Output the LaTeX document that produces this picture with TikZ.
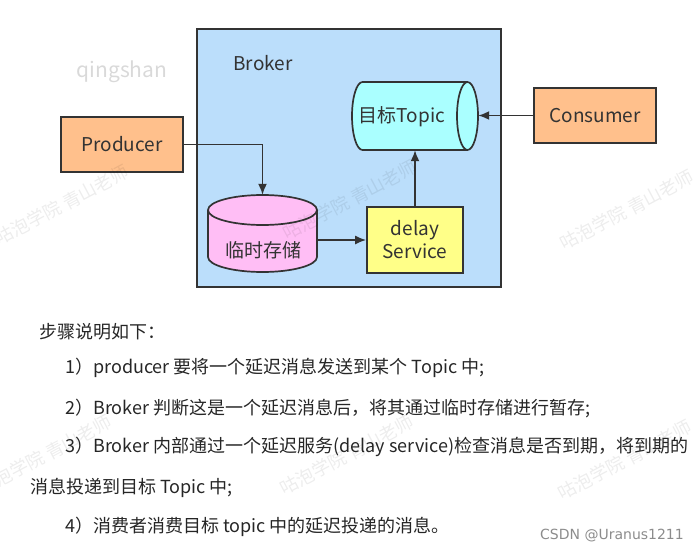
\documentclass[tikz,border=0pt]{standalone}
\usepackage{fontspec}
\setmainfont{Noto Sans CJK SC}
\newfontfamily\csdnfont{DejaVu Sans}
\usetikzlibrary{arrows.meta}
\definecolor{brokerblue}{RGB}{187,222,251}
\definecolor{topiccyan}{RGB}{170,255,255}
\definecolor{storepink}{RGB}{255,190,245}
\definecolor{delayyellow}{RGB}{255,255,136}
\definecolor{roleorange}{RGB}{255,192,140}
\definecolor{edgegray}{RGB}{51,51,51}
\tikzset{
	box/.style={draw=edgegray,line width=1.7pt,minimum width=122pt,minimum height=55pt,font=\fontsize{19}{23}\selectfont,text=edgegray},
	link/.style={draw=edgegray,line width=1.7pt,-{Latex[length=11pt,width=9pt]}},
	steptext/.style={anchor=west,inner sep=0pt,font=\fontsize{18}{20}\selectfont,text=black!85},
	wmtext/.style={rotate=28,text=black,opacity=.07,font=\fontsize{18}{20}\selectfont}
}
\begin{document}
\begin{tikzpicture}[x=1pt,y=1pt]
	\useasboundingbox (0,0) rectangle (699,-552);
	\node[text=black!15,font=\fontsize{21}{23}\selectfont] (qingshan) at (122,-72) {qingshan};
	
	\node[draw=edgegray,line width=1.7pt,fill=brokerblue,minimum width=304pt,minimum height=258pt] (broker) at (349,-158) {};
	\node[text=edgegray,font=\fontsize{19}{22}\selectfont] (brokername) at (263,-63) {Broker};
	
	% target topic, lying cylinder
	\node[minimum width=126pt,minimum height=68pt,inner sep=0pt] (topic) at (415,-116) {};
	\draw[draw=edgegray,line width=1.7pt,fill=topiccyan] (362.5,-82) -- (467.5,-82) arc[start angle=90,end angle=-90,x radius=10.5,y radius=34] -- (362.5,-150) arc[start angle=270,end angle=90,x radius=10.5,y radius=34] -- cycle;
	\draw[draw=edgegray,line width=1.7pt] (467.5,-82) arc[start angle=90,end angle=270,x radius=10.5,y radius=34];
	\node[text=edgegray,font=\fontsize{19}{22}\selectfont] (topictext) at (402,-117) {目标Topic};
	
	% temporary storage, standing cylinder
	\node[minimum width=109pt,minimum height=77pt,inner sep=0pt] (store) at (262.5,-233.5) {};
	\draw[draw=edgegray,line width=1.7pt,fill=storepink] (208,-210) -- (208,-257) arc[start angle=180,end angle=360,x radius=54.5,y radius=15] -- (317,-210) arc[start angle=0,end angle=180,x radius=54.5,y radius=15] -- cycle;
	\draw[draw=edgegray,line width=1.7pt] (208,-210) arc[start angle=180,end angle=360,x radius=54.5,y radius=15];
	\node[text=edgegray,font=\fontsize{19}{22}\selectfont] (storetext) at (263,-250) {临时存储};
	
	\node[box,fill=delayyellow,minimum width=96pt,minimum height=66pt,align=center] (delay) at (415,-240) {delay\\Service};
	\node[box,fill=roleorange] (producer) at (122,-144.5) {Producer};
	\node[box,fill=roleorange] (consumer) at (595,-115.5) {Consumer};
	
	\draw[link] (producer.east) -| (store.north);
	\draw[link] (store.east |- delay.west) -- (delay.west);
	\draw[link] (delay.north) -- (topic.south);
	\draw[link] (consumer.west) -- (consumer.west -| topic.east);
	
	\node[steptext] (steps) at (39,-332) {步骤说明如下：};
	\node[steptext] (stepa) at (65,-368) {1）producer 要将一个延迟消息发送到某个 Topic 中;};
	\node[steptext] (stepb) at (65,-408) {2）Broker 判断这是一个延迟消息后，将其通过临时存储进行暂存;};
	\node[steptext] (stepc) at (65,-447) {3）Broker 内部通过一个延迟服务(delay service)检查消息是否到期，将到期的};
	\node[steptext] (stepcc) at (30,-488) {消息投递到目标 Topic 中;};
	\node[steptext] (stepd) at (65,-527) {4）消费者消费目标 topic 中的延迟投递的消息。};
	\node[anchor=east,inner sep=0pt,text=black!45,font=\csdnfont\fontsize{14}{16}\selectfont] (csdn) at (684,-536) {CSDN @Uranus1211};
	
	% watermarks
	\node[wmtext] (wma) at (62,-205) {咕泡学院 青山老师};
	\node[wmtext] (wmb) at (350,-200) {咕泡学院 青山老师};
	\node[wmtext] (wmc) at (627,-210) {咕泡学院 青山老师};
	\node[wmtext] (wmd) at (45,-455) {咕泡学院 青山老师};
	\node[wmtext] (wme) at (347,-455) {咕泡学院 青山老师};
	\node[wmtext] (wmf) at (625,-460) {咕泡学院 青山老师};
\end{tikzpicture}
\end{document}
